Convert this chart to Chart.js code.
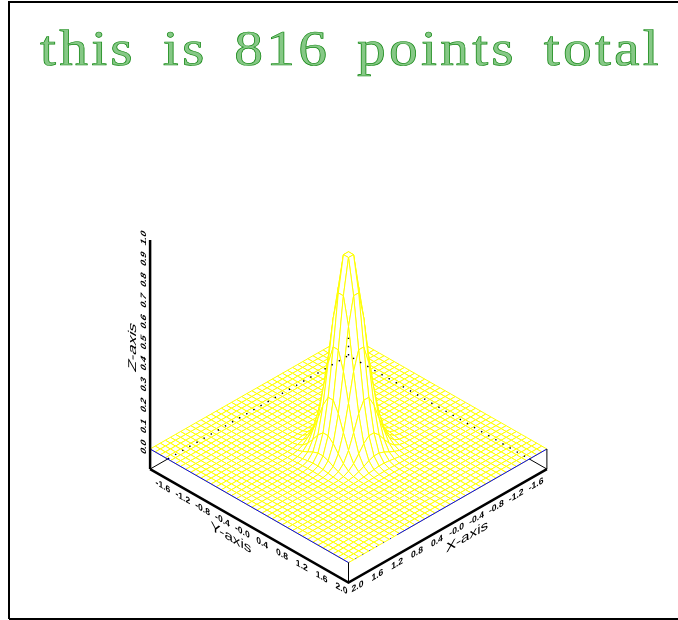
<!DOCTYPE html>
<html>
<head>
<meta charset="utf-8">
<script src="https://cdn.jsdelivr.net/npm/chart.js@4"></script>
<style>
  body { margin: 0; background: white; }
  #wrap { width: 678px; height: 620px; }
</style>
</head>
<body>
<div id="wrap"><canvas id="myChart" width="678" height="620"></canvas></div>
<script>
  var titleText = 'this is 816 points total';
  var axisNames = ['X-axis', 'Y-axis', 'Z-axis'];
  var xyTicks = [-1.6, -1.2, -0.8, -0.4, 0, 0.4, 0.8, 1.2, 1.6, 2.0];
  var xyTickLabels = ['-1.6', '-1.2', '-0.8', '-0.4', '-0.0', '0.4', '0.8', '1.2', '1.6', '2.0'];
  var zTicks = [0, 0.1, 0.2, 0.3, 0.4, 0.5, 0.6, 0.7, 0.8, 0.9, 1.0];
  var zTickLabels = ['0.0', '0.1', '0.2', '0.3', '0.4', '0.5', '0.6', '0.7', '0.8', '0.9', '1.0'];

  // grid lines of the sheet, same for x and y
  var gridValues = [-2.000, -1.897, -1.795, -1.692, -1.590, -1.487, -1.385, -1.282, -1.179, -1.077,
    -0.974, -0.872, -0.769, -0.667, -0.564, -0.462, -0.359, -0.256, -0.154, -0.051,
    0.051, 0.154, 0.256, 0.359, 0.462, 0.564, 0.667, 0.769, 0.872, 0.974,
    1.077, 1.179, 1.282, 1.385, 1.487, 1.590, 1.692, 1.795, 1.897, 2.000];

  // further out the sheet is flat
  var zQuadrant = [
    [0.930, 0.761, 0.516, 0.289, 0.133, 0.050, 0.016, 0.004, 0.001],
    [0.761, 0.627, 0.425, 0.238, 0.109, 0.041, 0.013, 0.003, 0.001],
    [0.516, 0.425, 0.288, 0.161, 0.074, 0.028, 0.009, 0.002, 0.000],
    [0.289, 0.238, 0.161, 0.090, 0.041, 0.016, 0.005, 0.001, 0.000],
    [0.133, 0.109, 0.074, 0.041, 0.019, 0.007, 0.002, 0.001, 0.000],
    [0.050, 0.041, 0.028, 0.016, 0.007, 0.003, 0.001, 0.000, 0.000],
    [0.016, 0.013, 0.009, 0.005, 0.002, 0.001, 0.000, 0.000, 0.000],
    [0.004, 0.003, 0.002, 0.001, 0.001, 0.000, 0.000, 0.000, 0.000],
    [0.001, 0.001, 0.000, 0.000, 0.000, 0.000, 0.000, 0.000, 0.000]
  ];

  var zBase = -0.096;

  function project(x, y, z) {
    return { x: 348.5 + (y - x) * 49.6, y: 449 + (x + y) * 28.4 - z * 209 };
  }

  function heightAt(i, j) {
    var a = i < 20 ? 19 - i : i - 20;
    var b = j < 20 ? 19 - j : j - 20;
    if (a > 8 || b > 8) return 0;
    return zQuadrant[a][b];
  }

  function line(points, color, width, dash) {
    return {
      data: points.map(function (p) { return project(p[0], p[1], p[2]); }),
      showLine: true, fill: false, pointRadius: 0, tension: 0,
      borderColor: color, borderWidth: width, borderDash: dash || [], borderCapStyle: 'butt'
    };
  }

  // cells of the sheet, chart.js paints the first dataset last so the nearest comes first
  var cells = [];
  for (var i = 0; i < gridValues.length - 1; i++) {
    for (var j = 0; j < gridValues.length - 1; j++) {
      var c = [[i, j], [i + 1, j], [i + 1, j + 1], [i, j + 1], [i, j]];
      cells.push({
        depth: i + j,
        data: c.map(function (k) { return project(gridValues[k[0]], gridValues[k[1]], heightAt(k[0], k[1])); }),
        showLine: true, fill: 'shape', backgroundColor: '#ffffff', pointRadius: 0, tension: 0,
        borderColor: '#ffff00', borderWidth: 1
      });
    }
  }
  cells.sort(function (p, q) { return q.depth - p.depth; });

  var boxLines = [
    line([[2, -2, zBase], [1.64, -2, zBase]], '#000000', 1),
    line([[-2, 2, zBase], [-2, 1.64, zBase]], '#000000', 1),
    line([[1.64, -2, zBase], [-2, -2, zBase], [-2, 1.64, zBase]], '#000000', 1.4, [1.4, 6.8]),
    line([[-2, -2, zBase], [-2, -2, 0]], '#000000', 1.4, [1.4, 6.8]),
    line([[2, -2, 0], [2, 2, 0]], '#0000ff', 1),
    line([[2, 2, 0], [1.0, 2, 0]], '#0000ff', 1, [1, 7]),
    line([[1.0, 2, 0], [-2, 2, 0]], '#0000ff', 1),
    line([[2, 2, zBase], [2, 2, 0]], '#000000', 1),
    line([[-2, 2, zBase], [-2, 2, 0]], '#000000', 1),
    line([[2, -2, zBase], [2, 2, zBase], [-2, 2, zBase]], '#000000', 2.5),
    line([[2, -2, zBase], [2, -2, 1]], '#000000', 2.5)
  ];

  // text set in the plane of its axis: baseline direction plus a slant
  function slanted(ctx, text, px, py, m, font, wide) {
    ctx.save();
    ctx.font = font;
    ctx.fillStyle = '#000000';
    ctx.textAlign = 'center';
    ctx.textBaseline = 'middle';
    ctx.transform(m[0] * wide, m[1] * wide, m[2], m[3], px, py);
    ctx.fillText(text, 0, 0);
    ctx.restore();
  }

  var textPlugin = {
    id: 'plotText',
    beforeDraw: function (chart) {
      var ctx = chart.ctx;
      ctx.save();
      ctx.strokeStyle = '#000000';
      ctx.lineWidth = 2;
      ctx.beginPath();
      ctx.moveTo(9, 619);
      ctx.lineTo(9, 2);
      ctx.lineTo(678, 2);
      ctx.moveTo(9, 619);
      ctx.lineTo(678, 619);
      ctx.stroke();
      ctx.restore();
    },
    afterDatasetsDraw: function (chart) {
      var ctx = chart.ctx;
      var yDir = [0.866, 0.5, 0, 1];
      var xDir = [0.866, -0.5, 0, 1];
      var zDir = [0, -1, 0.866, 0.5];
      var tickFont = 'bold 9px "Liberation Sans"';
      var nameFont = '13px "Liberation Sans"';
      xyTicks.forEach(function (v, n) {
        var a = project(v, 2, zBase);
        slanted(ctx, xyTickLabels[n], a.x + 9, a.y + 4, xDir, tickFont, 1.1);
        var b = project(2, v, zBase);
        slanted(ctx, xyTickLabels[n], b.x - 7, b.y + 6, yDir, tickFont, 1.1);
      });
      zTicks.forEach(function (v, n) {
        var a = project(2, -2, v);
        slanted(ctx, zTickLabels[n], a.x - 6, a.y - 2, zDir, tickFont, 1.1);
      });
      slanted(ctx, axisNames[0], 467, 537, xDir, nameFont, 1.35);
      slanted(ctx, axisNames[1], 231, 538, yDir, nameFont, 1.35);
      slanted(ctx, axisNames[2], 133, 347, zDir, nameFont, 1.35);

      ctx.save();
      ctx.font = '50px "Liberation Serif"';
      ctx.letterSpacing = '2.8px';
      ctx.wordSpacing = '8px';
      ctx.textAlign = 'left';
      ctx.textBaseline = 'alphabetic';
      ctx.fillStyle = '#86c886';
      ctx.strokeStyle = '#178a17';
      ctx.lineWidth = 0.7;
      ctx.translate(40, 65);
      ctx.scale(1.15, 1);
      ctx.fillText(titleText, 0, 0);
      ctx.strokeText(titleText, 0, 0);
      ctx.restore();
    }
  };

  new Chart(document.getElementById('myChart').getContext('2d'), {
    type: 'scatter',
    data: { datasets: boxLines.reverse().concat(cells) },
    plugins: [textPlugin],
    options: {
      responsive: false,
      animation: false,
      layout: { padding: 0 },
      plugins: {
        legend: { display: false },
        tooltip: { enabled: false },
        filler: { drawTime: 'beforeDatasetDraw' }
      },
      scales: {
        x: { type: 'linear', min: 0, max: 678, display: false },
        y: { type: 'linear', min: 0, max: 620, reverse: true, display: false }
      }
    }
  });
</script>
</body>
</html>
